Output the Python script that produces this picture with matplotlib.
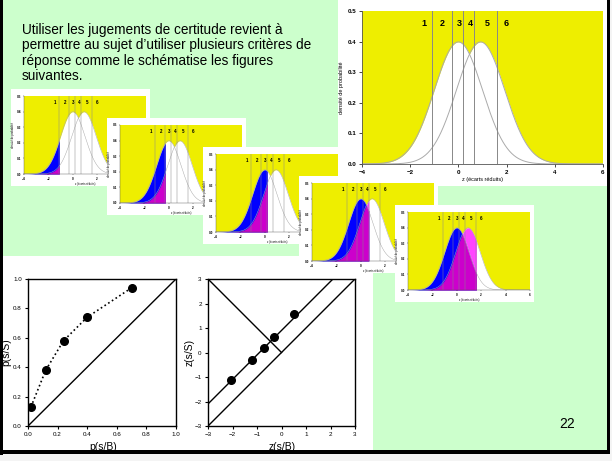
import numpy as np
import matplotlib.pyplot as plt
from matplotlib.patches import Rectangle

plt.rcParams['font.family'] = ['Liberation Sans', 'DejaVu Sans']

W, H = 612, 461

# decision criteria (z) and mean of the second distribution
criteria = [-1.10, -0.28, 0.21, 0.66, 1.61]
d_prime = 0.92
rating_labels = ['1', '2', '3', '4', '5', '6']
rating_x = [-1.42, -0.65, 0.04, 0.51, 1.20, 1.97]

# ROC points
p_fa = [0.02, 0.12, 0.24, 0.40, 0.70]
p_hit = [0.13, 0.38, 0.58, 0.74, 0.94]
z_fa = [-2.06, -1.21, -0.73, -0.29, 0.50]
z_hit = [-1.12, -0.30, 0.20, 0.64, 1.58]

text_lines = ["Utiliser les jugements de certitude revient à",
              "permettre au sujet d\u2019utiliser plusieurs critères de",
              "réponse comme le schématise les figures",
              "suivantes."]

yellow = '#eeee00'
green = '#ccffcc'


def px_axes(fig, x0, y0, w, h, z):
    ax = fig.add_axes([x0 / W, 1 - (y0 + h) / H, w / W, h / H])
    ax.set_zorder(z)
    return ax


def px_rect(fig, x0, y0, w, h, color, z):
    fig.add_artist(Rectangle((x0 / W, 1 - (y0 + h) / H), w / W, h / H,
                             transform=fig.transFigure, facecolor=color,
                             edgecolor='none', zorder=z))


def density_chart(ax, fill_to=None, s=1.0):
    z = np.sort(np.concatenate([np.linspace(-4, 6, 1000), criteria]))
    f0 = np.exp(-z ** 2 / 2) / np.sqrt(2 * np.pi)
    f1 = np.exp(-(z - d_prime) ** 2 / 2) / np.sqrt(2 * np.pi)
    ax.set_facecolor(yellow)
    ax.fill_between(z, 0, np.maximum(f0, f1), color='white', lw=0)
    if fill_to is not None:
        m = z <= fill_to + 1e-9
        ax.fill_between(z[m], 0, f0[m], color='#0000ff', lw=0)
        ax.fill_between(z[m], 0, np.minimum(f0, f1)[m], color='#cc00cc', lw=0)
        ax.fill_between(z[m], f0[m], f1[m], where=f1[m] > f0[m],
                        color='#ff44ff', lw=0)
    ax.plot(z, f0, color='#aaaaaa', lw=0.7 * s)
    ax.plot(z, f1, color='#aaaaaa', lw=0.7 * s)
    for c in criteria:
        ax.axvline(c, color='#888888', lw=0.7 * s)
    for lab, x in zip(rating_labels, rating_x):
        ax.text(x, 0.46, lab, ha='center', va='center', fontsize=6.5 * s,
                fontweight='bold')
    ax.set_xlim(-4, 6)
    ax.set_ylim(0, 0.5)
    ax.set_xticks([-4, -2, 0, 2, 4, 6])
    ax.set_yticks([0, 0.1, 0.2, 0.3, 0.4, 0.5])
    ax.set_yticklabels(['0.0', '0.1', '0.2', '0.3', '0.4', '0.5'])
    ax.tick_params(labelsize=4.5 * s, length=2 * s, width=0.5 * s, pad=2 * s)
    for t in ax.get_xticklabels() + ax.get_yticklabels():
        t.set_fontweight('bold')
    for sp in ['top', 'right']:
        ax.spines[sp].set_visible(False)
    for sp in ['left', 'bottom']:
        ax.spines[sp].set_linewidth(0.6 * s)
        ax.spines[sp].set_color('#555555')
    ax.set_xlabel('z (écarts réduits)', fontsize=4 * s, labelpad=2 * s)
    ax.set_ylabel('densité de probabilité', fontsize=4 * s, labelpad=3 * s)


fig = plt.figure(figsize=(W / 100, H / 100), dpi=100, facecolor='#f4f4f4')

# slide background and frame
px_rect(fig, 0, 0, 610, 453, green, 0.1)
px_rect(fig, 3, 256, 370, 195, 'white', 0.2)

# text
for i, line in enumerate(text_lines):
    fig.text(22 / W, 1 - (34 + 15.4 * i) / H, line, fontsize=9.8,
             va='baseline', ha='left', zorder=0.3)

# big density chart
px_rect(fig, 338, 0, 270, 186, 'white', 1)
ax = px_axes(fig, 362, 11, 241, 153, 1.5)
density_chart(ax)

# stacked thumbnails
for k in range(5):
    cx, cy = 11 + 96 * k, 89 + 29 * k
    px_rect(fig, cx, cy, 139, 97, 'white', 2 + k)
    ax = px_axes(fig, cx + 13, cy + 7, 122, 78, 2.5 + k)
    density_chart(ax, fill_to=criteria[k], s=0.5)

# ROC in probabilities
ax = px_axes(fig, 28, 279, 148, 147, 1.2)
ax.plot([0, 1], [0, 1], color='black', lw=1)
ax.plot(p_fa, p_hit, color='black', ls=':', lw=1.2, marker='o', ms=5.5)
ax.set_xlim(0, 1)
ax.set_ylim(0, 1)
ax.set_xticks(np.arange(0, 1.01, 0.2))
ax.set_yticks(np.arange(0, 1.01, 0.2))
ax.set_xticklabels(['0.0', '0.2', '0.4', '0.6', '0.8', '1.0'])
ax.set_yticklabels(['0.0', '0.2', '0.4', '0.6', '0.8', '1.0'])

# ROC in z scores
ax2 = px_axes(fig, 208, 279, 147, 147, 1.2)
ax2.plot([-3, 3], [-3, 3], color='black', lw=1)
ax2.plot([-3, 2.1], [-2.1, 3], color='black', lw=1)
ax2.plot([-3, 0], [3, 0], color='black', lw=1)
ax2.plot(z_fa, z_hit, color='black', ls='none', marker='o', ms=5.5)
ax2.set_xlim(-3, 3)
ax2.set_ylim(-3, 3)
ax2.set_xticks(range(-3, 4))
ax2.set_yticks(range(-3, 4))

for a in (ax, ax2):
    a.tick_params(labelsize=4.5, length=2.5, width=0.8, pad=2)
    for sp in a.spines.values():
        sp.set_linewidth(1.0)

fig.text(6 / W, 1 - 352 / H, 'p(s/S)', rotation=90, fontsize=7.5,
         ha='center', va='center', zorder=1.3)
fig.text(190 / W, 1 - 352 / H, 'z(s/S)', rotation=90, fontsize=7.5,
         ha='center', va='center', zorder=1.3)
fig.text(103 / W, 1 - 447 / H, 'p(s/B)', fontsize=7.5,
         ha='center', va='center', zorder=1.3)
fig.text(282 / W, 1 - 447 / H, 'z(s/B)', fontsize=7.5,
         ha='center', va='center', zorder=1.3)

fig.text(567 / W, 1 - 424 / H, '22', fontsize=10, ha='center', va='center',
         zorder=1.3)

# frame lines
px_rect(fig, 0, 0, 3, 455, 'black', 20)
px_rect(fig, 0, 450, 610, 4, 'black', 20)
px_rect(fig, 607, 0, 3, 454, 'black', 20)

fig.savefig('out.png', dpi=100, facecolor=fig.get_facecolor())
